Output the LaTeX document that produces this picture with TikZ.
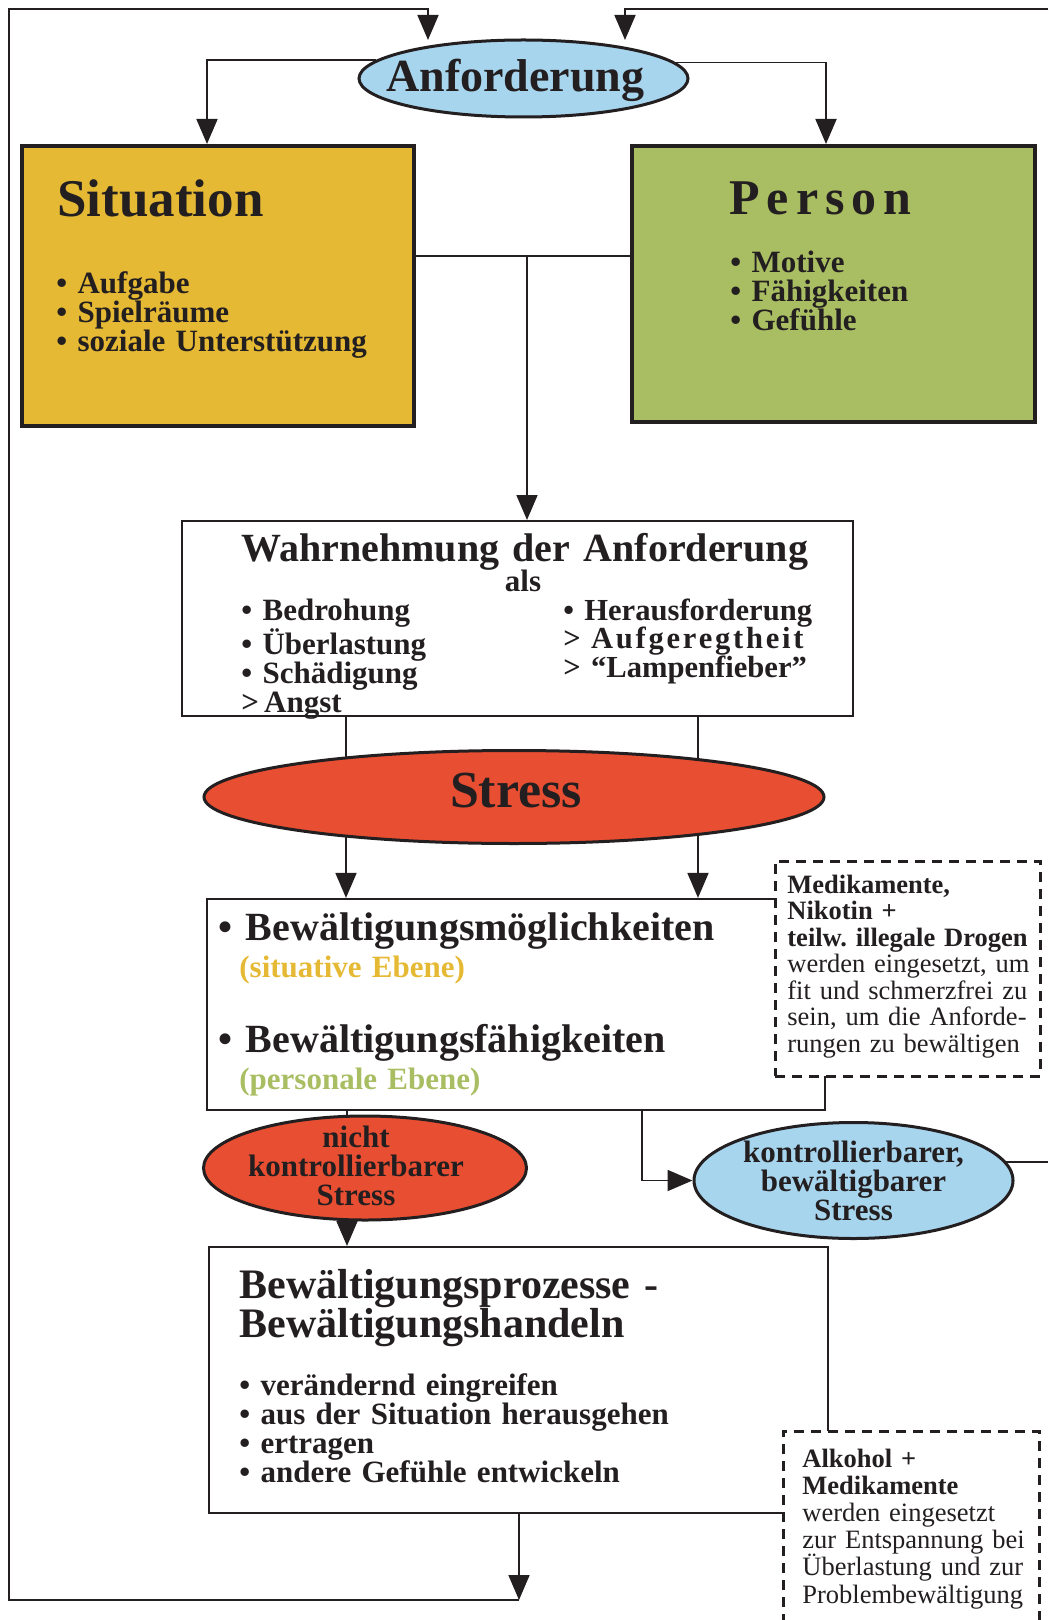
\documentclass[tikz,border=0pt]{standalone}
\usepackage{fontspec}
\setmainfont{Liberation Serif}
\usetikzlibrary{arrows.meta,shapes.geometric}
\definecolor{ink}{RGB}{35,31,32}
\definecolor{skyfill}{RGB}{168,213,238}
\definecolor{sitgold}{RGB}{229,185,52}
\definecolor{pergreen}{RGB}{169,190,98}
\definecolor{stressred}{RGB}{232,78,50}
\newcommand\fsz[2]{\fontsize{#1}{#2}\selectfont}
\lineskiplimit=-30pt
\frenchspacing
\tikzset{
  flow/.style={draw=ink, line width=0.9pt},
  flowarrow/.style={flow, -{Triangle[length=12.5pt,width=10.5pt]}},
  panel/.style={draw=ink, rectangle, inner sep=0pt},
  oval/.style={draw=ink, ellipse, inner sep=0pt, line width=1.5pt},
  hint/.style={draw=ink, fill=white, line width=1.5pt, dash pattern=on 5pt off 3.5pt},
  txt/.style={inner sep=0pt, text=ink, anchor=base west, align=left, text width=#1},
  txt/.default=400pt,
  mid text/.style={inner sep=0pt, text=ink, anchor=base, align=center, text width=170pt}
}
\begin{document}
\begin{tikzpicture}[x=0.5pt,y=-0.5pt]
  \useasboundingbox (0,0) rectangle (1048,1620);
  % corner points of the feedback loop
  \coordinate (loopS)  at (519,1600);
  \coordinate (loopSW) at (9,1600);
  \coordinate (loopNW) at (9,9);
  \coordinate (loopNE) at (1048,9);
  \coordinate (anfinL) at (428,40);
  \coordinate (anfinR) at (625,40);
  \coordinate (mid)    at (527,256);

  % boxes
  \node[oval, fill=skyfill, minimum width=164.5pt, minimum height=38.5pt] (anf) at (523.5,78.5) {};
  \node[panel, fill=sitgold, line width=2pt, minimum width=196pt, minimum height=140pt] (sit) at (218,286) {};
  \node[panel, fill=pergreen, line width=2pt, minimum width=201.5pt, minimum height=138pt] (per) at (833.5,284) {};
  \node[panel, line width=1pt, minimum width=335.5pt, minimum height=97.5pt] (wahr) at (517.5,618.5) {};
  \node[panel, line width=1.1pt, minimum width=309pt, minimum height=105.5pt] (bewm) at (516,1004.5) {};
  \node[panel, line width=1pt, minimum width=309.5pt, minimum height=133pt] (proz) at (518.5,1380) {};

  % lines that run behind the ellipses
  \foreach \xx in {346,698}
    \draw[flowarrow] (\xx,0 |- wahr.south) -- (\xx,0 |- bewm.north);
  \draw[flowarrow] (347,0 |- bewm.south) -- (347,0 |- proz.north);

  \node[oval, fill=stressred, minimum width=310pt, minimum height=46.5pt] (stress) at (514,797) {};
  \node[oval, fill=stressred, minimum width=161.5pt, minimum height=52pt] (nicht) at (365,1168) {};
  \node[oval, fill=skyfill, minimum width=159.5pt, minimum height=58pt] (kontr) at (853.5,1180.5) {};

  % side notes
  \node[hint, minimum width=132.5pt, minimum height=107.5pt] (medi) at (907.5,968.5) {};
  \path[hint] (783,1624) -- (783,1431) -- (1039,1431) -- (1039,1624);

  % connectors
  \draw[flowarrow] (anf.173) -| ([xshift=-5.5pt]sit.north);
  \draw[flowarrow] (anf.6) -| ([xshift=-3.75pt]per.north);
  \draw[flow] (mid -| sit.east) -- (mid -| per.west);
  \draw[flowarrow] (mid) -- (mid |- wahr.north);
  \draw[flowarrow] (642,0 |- bewm.south) |- (kontr.west);
  \draw[flow] (kontr.7) -- (kontr.7 -| loopNE);
  \draw[flowarrow] (proz.south -| loopS) -- (loopS);
  \draw[flowarrow] (loopS) -- (loopSW) -- (loopNW) -| (anfinL);
  \draw[flowarrow] (loopNE) -| (anfinR);

  % texts
  \node[inner sep=0pt, anchor=base, text=ink, font=\fsz{23}{23}\bfseries] (anftext) at (515.5,92) {Anforderung};
  \node[txt, font=\fsz{26.5}{26.5}\bfseries] (sittitle) at (57,217) {Situation};
  \node[txt, font=\fsz{15.5}{14.5}\bfseries] (sitlist) at (56,294) {• Aufgabe\\• Spielräume\\• soziale Unterstützung};
  \node[txt, font=\fsz{25}{25}\bfseries\addfontfeatures{LetterSpace=14}] (pertitle) at (729,215) {Person};
  \node[txt, font=\fsz{15.5}{14.5}\bfseries] (perlist) at (730,273) {• Motive\\• Fähigkeiten\\• Gefühle};
  \node[txt, font=\fsz{20}{20}\bfseries] (wahrtitle) at (241,561) {Wahrnehmung der Anforderung};
  \node[inner sep=0pt, anchor=base, text=ink, font=\fsz{15.5}{14.5}\bfseries] (wahrals) at (523,591) {als};
  \node[txt, font=\fsz{15.5}{14.35}\bfseries] (wahrleft) at (241,620) {• Bedrohung\\• Überlastung\\• Schädigung\\>\,Angst};
  \node[txt, font=\fsz{15.3}{14.35}\bfseries] (wahrright) at (563,620) {• Herausforderung\\> {\addfontfeatures{LetterSpace=9}Aufgeregtheit}\\> “Lampenfieber”};
  \node[inner sep=0pt, anchor=base, text=ink, font=\fsz{26}{26}\bfseries] (stresstext) at (516,807) {Stress};
  \node[txt, font=\fsz{20}{20}\bfseries] (moegl) at (218,940) {• Bewältigungsmöglichkeiten};
  \node[txt, text=sitgold, font=\fsz{15.5}{15}\bfseries] (moeglsub) at (239,977) {(situative Ebene)};
  \node[txt, font=\fsz{20}{20}\bfseries] (faeh) at (218,1052) {• Bewältigungsfähigkeiten};
  \node[txt, text=pergreen, font=\fsz{15.5}{15}\bfseries] (faehsub) at (239,1089) {(personale Ebene)};
  \node[txt, font=\fsz{13.25}{13.25}] (meditext) at (787,893) {\textbf{Medikamente,}\\\textbf{Nikotin +}\\\textbf{teilw. illegale Drogen}\\werden eingesetzt, um\\fit und schmerzfrei zu\\sein, um die Anforde-\\rungen zu bewältigen};
  \node[mid text, font=\fsz{15.5}{14.5}\bfseries] (nichttext) at (356,1147) {nicht\\kontrollierbarer\\Stress};
  \node[mid text, font=\fsz{15.5}{14.5}\bfseries] (kontrtext) at (853.5,1162) {kontrollierbarer,\\bewältigbarer\\Stress};
  \node[txt, font=\fsz{21}{19.5}\bfseries] (proztitle) at (239,1298) {Bewältigungsprozesse -\\Bewältigungshandeln};
  \node[txt, font=\fsz{15.5}{14.65}\bfseries] (prozlist) at (239,1395) {• verändernd eingreifen\\• aus der Situation herausgehen\\• ertragen\\• andere Gefühle entwickeln};
  \node[txt, font=\fsz{13.25}{13.6}] (alkotext) at (802,1467) {\textbf{Alkohol +}\\\textbf{Medikamente}\\werden eingesetzt\\zur Entspannung bei\\Überlastung und zur\\Problembewältigung};
\end{tikzpicture}
\end{document}
